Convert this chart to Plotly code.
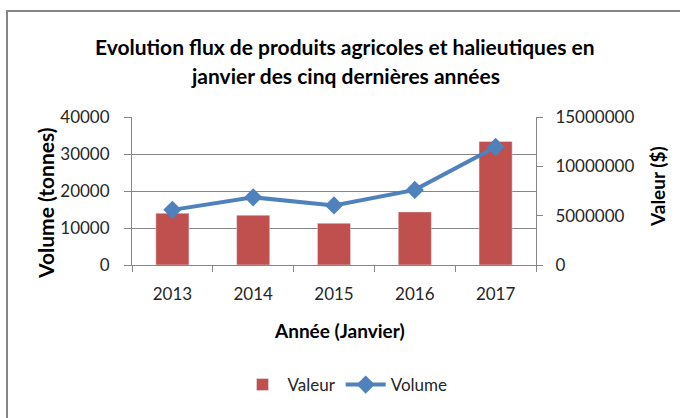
import plotly.graph_objects as go

years = ["2013", "2014", "2015", "2016", "2017"]
valeur = [5250000, 5050000, 4230000, 5380000, 12520000]
volume = [14900, 18300, 16100, 20300, 31900]

FONT = "Lato"
GRAY = "#868686"

fig = go.Figure()
fig.add_trace(go.Bar(x=years, y=valeur, name="Valeur", marker_color="#C0504D",
                     yaxis="y"))
fig.add_trace(go.Scatter(x=years, y=volume, name="Volume", mode="lines+markers",
                         line=dict(color="#4F81BD", width=4),
                         marker=dict(symbol="diamond", size=14, color="#4F81BD"),
                         yaxis="y2"))

L, R, T, B = 132, 144, 117, 153
W, H = 680, 418
pw, ph = W - L - R, H - T - B

def px(x):
    return (x - L) / pw

def py(y):
    return (H - B - y) / ph

fig.update_layout(
    width=W, height=H,
    margin=dict(l=L, r=R, t=T, b=B),
    paper_bgcolor="white", plot_bgcolor="white",
    font=dict(family=FONT, size=17, color="#262626"),
    bargap=0.59,
    showlegend=True,
    legend=dict(orientation="h", x=px(345), xanchor="center", y=py(385), yanchor="middle",
                font=dict(size=17, color="#262626"), traceorder="normal",
                itemwidth=40),
    xaxis=dict(type="category", range=[-0.5, 4.5], showline=True, linecolor=GRAY,
               linewidth=1, ticks="outside", tickson="boundaries", ticklen=6,
               tickcolor=GRAY, showgrid=False, tickfont=dict(size=17),
               ticklabelstandoff=14),
    yaxis=dict(side="right", range=[0, 15000000], dtick=5000000, showgrid=False,
               showline=True, linecolor=GRAY, ticks="outside", ticklen=6,
               tickcolor=GRAY, tickformat="d", zeroline=False,
               tickfont=dict(size=17), ticklabelstandoff=9),
    yaxis2=dict(side="left", overlaying="y", range=[0, 40000], dtick=10000,
                showgrid=True, gridcolor=GRAY, gridwidth=1, showline=True,
                linecolor=GRAY, ticks="outside", ticklen=7, tickcolor=GRAY,
                tickformat="d", zeroline=False, tickfont=dict(size=17),
                ticklabelstandoff=11),
    annotations=[
        dict(text="<b>Evolution flux de produits agricoles et halieutiques en</b>",
             x=px(345), y=py(47), xref="paper", yref="paper", showarrow=False,
             font=dict(size=21, color="black"), xanchor="center", yanchor="middle"),
        dict(text="<b>janvier des cinq dernières années</b>",
             x=px(345), y=py(75), xref="paper", yref="paper", showarrow=False,
             font=dict(size=21, color="black"), xanchor="center", yanchor="middle"),
        dict(text="<b>Volume (tonnes)</b>", x=px(45), y=py(203), xref="paper",
             yref="paper", showarrow=False, textangle=-90,
             font=dict(size=21, color="black"), xanchor="center", yanchor="middle"),
        dict(text="<b>Valeur ($)</b>", x=px(657), y=py(187), xref="paper",
             yref="paper", showarrow=False, textangle=-90,
             font=dict(size=19, color="black"), xanchor="center", yanchor="middle"),
        dict(text="<b>Année (Janvier)</b>", x=px(339), y=py(330), xref="paper",
             yref="paper", showarrow=False,
             font=dict(size=19, color="black"), xanchor="center", yanchor="middle"),
    ],
    shapes=[
        dict(type="rect", xref="paper", yref="paper", x0=px(7), y0=py(430),
             x1=px(700), y1=py(11), line=dict(color=GRAY, width=2),
             fillcolor="rgba(0,0,0,0)", layer="below"),
    ],
)

fig.write_html("out.html", config={"displayModeBar": False},
               post_script="document.body.style.margin='0';document.body.style.overflow='hidden';")
